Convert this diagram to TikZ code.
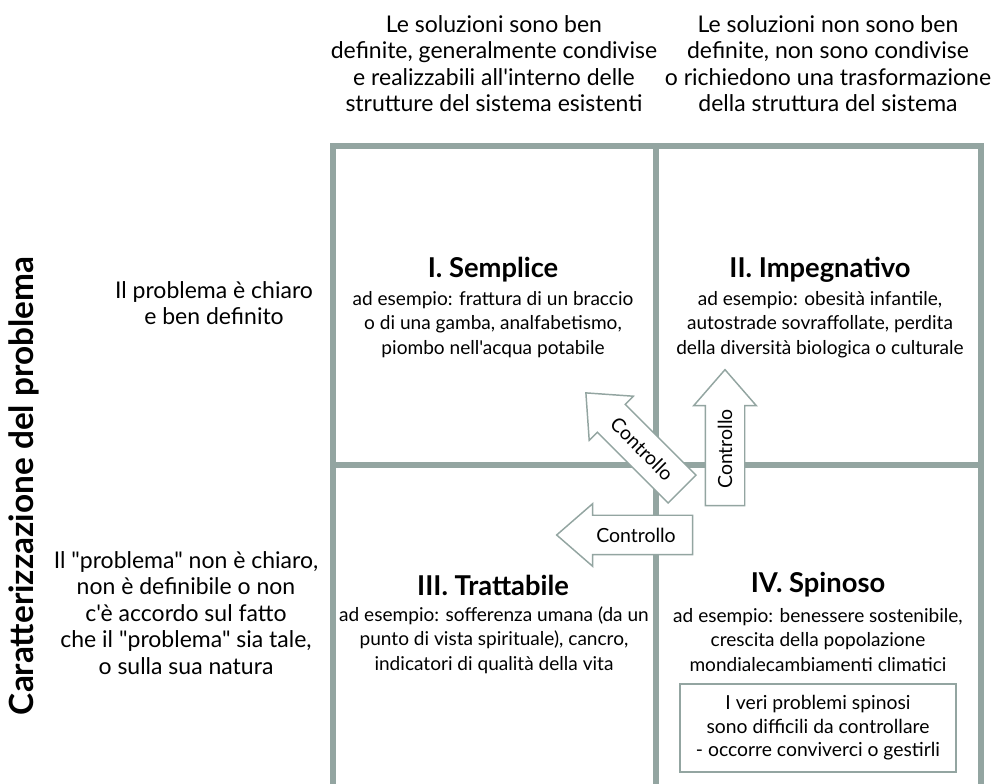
\documentclass[tikz,border=0pt]{standalone}
\usepackage{fontspec}
\newfontfamily\lato{Lato}
\usetikzlibrary{positioning, shapes.arrows}
\definecolor{gridgray}{RGB}{147,165,161}
\tikzset{%
	grid/.style={line width=4.5pt, draw=gridgray, line join=miter},
	head/.style={align=center, font=\lato\fontsize{17.25}{19.9}\selectfont},
	axis/.style={font=\lato\bfseries\fontsize{25}{28}\selectfont, rotate=90},
	title/.style={font=\lato\bfseries\fontsize{20.5}{22}\selectfont},
	body/.style={align=center, font=\lato\fontsize{14.3}{18.4}\selectfont},
	ctrl/.style={draw=gridgray, line width=1.1pt, fill=white, single arrow,
		minimum height=102pt, single arrow head extend=8.6pt, single arrow tip angle=82,
		inner xsep=6pt, inner ysep=9pt, text height=10.5pt, text depth=0pt,
		font=\lato\fontsize{14.6}{16}\selectfont},
	note/.style={draw=gridgray, line width=1.1pt, align=center, minimum width=207pt,
		minimum height=66pt, font=\lato\fontsize{14.5}{17.6}\selectfont}
}

\begin{document}
\begin{tikzpicture}[x=0.75pt, y=-0.75pt]
	\useasboundingbox (0,0) rectangle (1001,784);

	% grid
	\draw[grid] (333,790) -- (333,146) -- (981,146) -- (981,790);
	\draw[grid] (656,146) -- (656,790);
	\draw[grid] (333,465) -- (981,465);

	% headings
	\node[head] (sol-def) at (494,63.5) {Le soluzioni sono ben\\definite, generalmente condivise\\e realizzabili all'interno delle\\strutture del sistema esistenti};
	\node[head] (sol-undef) at (828,63.5) {Le soluzioni non sono ben\\definite, non sono condivise\\o richiedono una trasformazione\\della struttura del sistema};
	\node[head] (prob-def) at (214,303) {Il problema è chiaro\\e ben definito};
	\node[head] (prob-undef) at (186,613) {Il "problema" non è chiaro,\\non è definibile o non\\c'è accordo sul fatto\\che il "problema" sia tale,\\o sulla sua natura};
	\node[axis] (carat) at (24,486) {Caratterizzazione del problema};

	% quadrants
	\node[title] (simple) at (493,270) {I. Semplice};
	\node[body] (simple-ex) at (493,324.5) {ad esempio: frattura di un braccio\\o di una gamba, analfabetismo,\\piombo nell'acqua potabile};
	\node[title] (hard) at (820,270) {II. Impegnativo};
	\node[body] (hard-ex) at (820,324.5) {ad esempio: obesità infantile,\\autostrade sovraffollate, perdita\\della diversità biologica o culturale};
	\node[title] (tame) at (493,585) {III. Trattabile};
	\node[body] (tame-ex) at (494,640) {ad esempio: sofferenza umana (da un\\punto di vista spirituale), cancro,\\indicatori di qualità della vita};
	\node[title] (wicked) at (818,585) {IV. Spinoso};
	\node[body] (wicked-ex) at (818,640) {ad esempio: benessere sostenibile,\\crescita della popolazione\\mondialecambiamenti climatici};
	\node[note] (wicked-note) at (818,728) {I veri problemi spinosi\\sono difficili da controllare\\- occorre conviverci o gestirli};

	% control arrows
	\node[ctrl, rotate=90] (ctrl-up) at (725,449) {Controllo};
	\node[ctrl, rotate=-45, shape border rotate=180] (ctrl-diag) at (642,449) {Controllo};
	\node[ctrl, shape border rotate=180] (ctrl-left) at (636,535) {Controllo};
\end{tikzpicture}
\end{document}
